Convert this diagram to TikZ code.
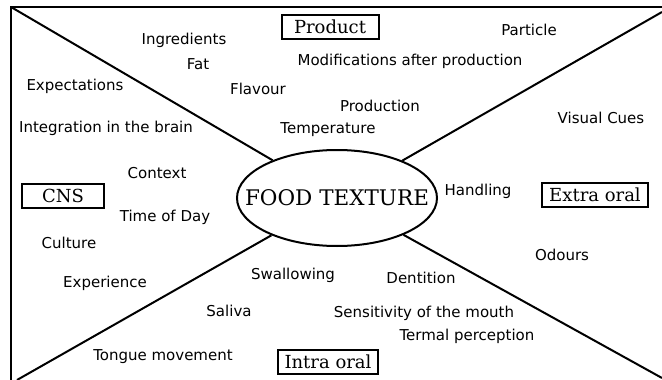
\documentclass[tikz,border=0pt]{standalone}
\usepackage{fontspec}
\setmainfont{DejaVu Sans}
\newfontfamily\boxserif{DejaVu Serif}
\usetikzlibrary{shapes.geometric}
\tikzset{
  lbl/.style={font=\fontsize{15}{18}\selectfont, inner sep=0pt, anchor=center},
  cat/.style={draw, line width=2pt, font=\boxserif\fontsize{18}{20}\selectfont, inner sep=0pt, minimum height=24pt},
  link/.style={line width=2pt},
}
\begin{document}
\begin{tikzpicture}[x=1pt,y=-1pt]
\useasboundingbox (0,0) rectangle (662,380);
% frame
\draw[line width=2.2pt] (11,385) -- (11,7) -- (670,7);
% centre
\node[ellipse, draw, line width=2pt, minimum width=200pt, minimum height=96pt, inner sep=0pt] (ft) at (337,198) {};
\node[font=\boxserif\fontsize{21.5}{24}\selectfont, inner sep=0pt] (ftlabel) at (ft.center) {FOOD TEXTURE};
\coordinate (tl) at (11,7);
\coordinate (tr) at (662,12);
\coordinate (bl) at (17,380);
\coordinate (br) at (662,378);
\draw[link] (tl) -- (ft);
\draw[link] (tr) -- (ft);
\draw[link] (bl) -- (ft);
\draw[link] (br) -- (ft);
% category boxes
\node[cat, minimum width=97pt] (prod) at (330,27) {Product};
\node[cat, minimum width=82pt] (cns) at (63,196) {CNS};
\node[cat, minimum width=106pt] (extra) at (595,195) {Extra oral};
\node[cat, minimum width=100pt] (intra) at (328,362) {Intra oral};
% labels
\node[lbl] (particle) at (529,30) {Particle};
\node[lbl] (ingr) at (184,40) {Ingredients};
\node[lbl] (fat) at (198,64) {Fat};
\node[lbl] (modif) at (410,61) {Modifications after production};
\node[lbl] (expect) at (75,86) {Expectations};
\node[lbl] (flav) at (258,89) {Flavour};
\node[lbl] (produc) at (380,106) {Production};
\node[lbl] (visual) at (601,118) {Visual Cues};
\node[lbl] (integr) at (106,128) {Integration in the brain};
\node[lbl] (temp) at (328,130) {Temperature};
\node[lbl] (context) at (157,173) {Context};
\node[lbl] (handl) at (478,191) {Handling};
\node[lbl] (tod) at (165,217) {Time of Day};
\node[lbl] (cult) at (69,243) {Culture};
\node[lbl] (odour) at (562,255) {Odours};
\node[lbl] (swall) at (293,275) {Swallowing};
\node[lbl] (dent) at (421,278) {Dentition};
\node[lbl] (exper) at (105,283) {Experience};
\node[lbl] (saliva) at (229,311) {Saliva};
\node[lbl] (sens) at (424,313) {Sensitivity of the mouth};
\node[lbl] (termal) at (467,336) {Termal perception};
\node[lbl] (tongue) at (163,357) {Tongue movement};
\end{tikzpicture}
\end{document}
